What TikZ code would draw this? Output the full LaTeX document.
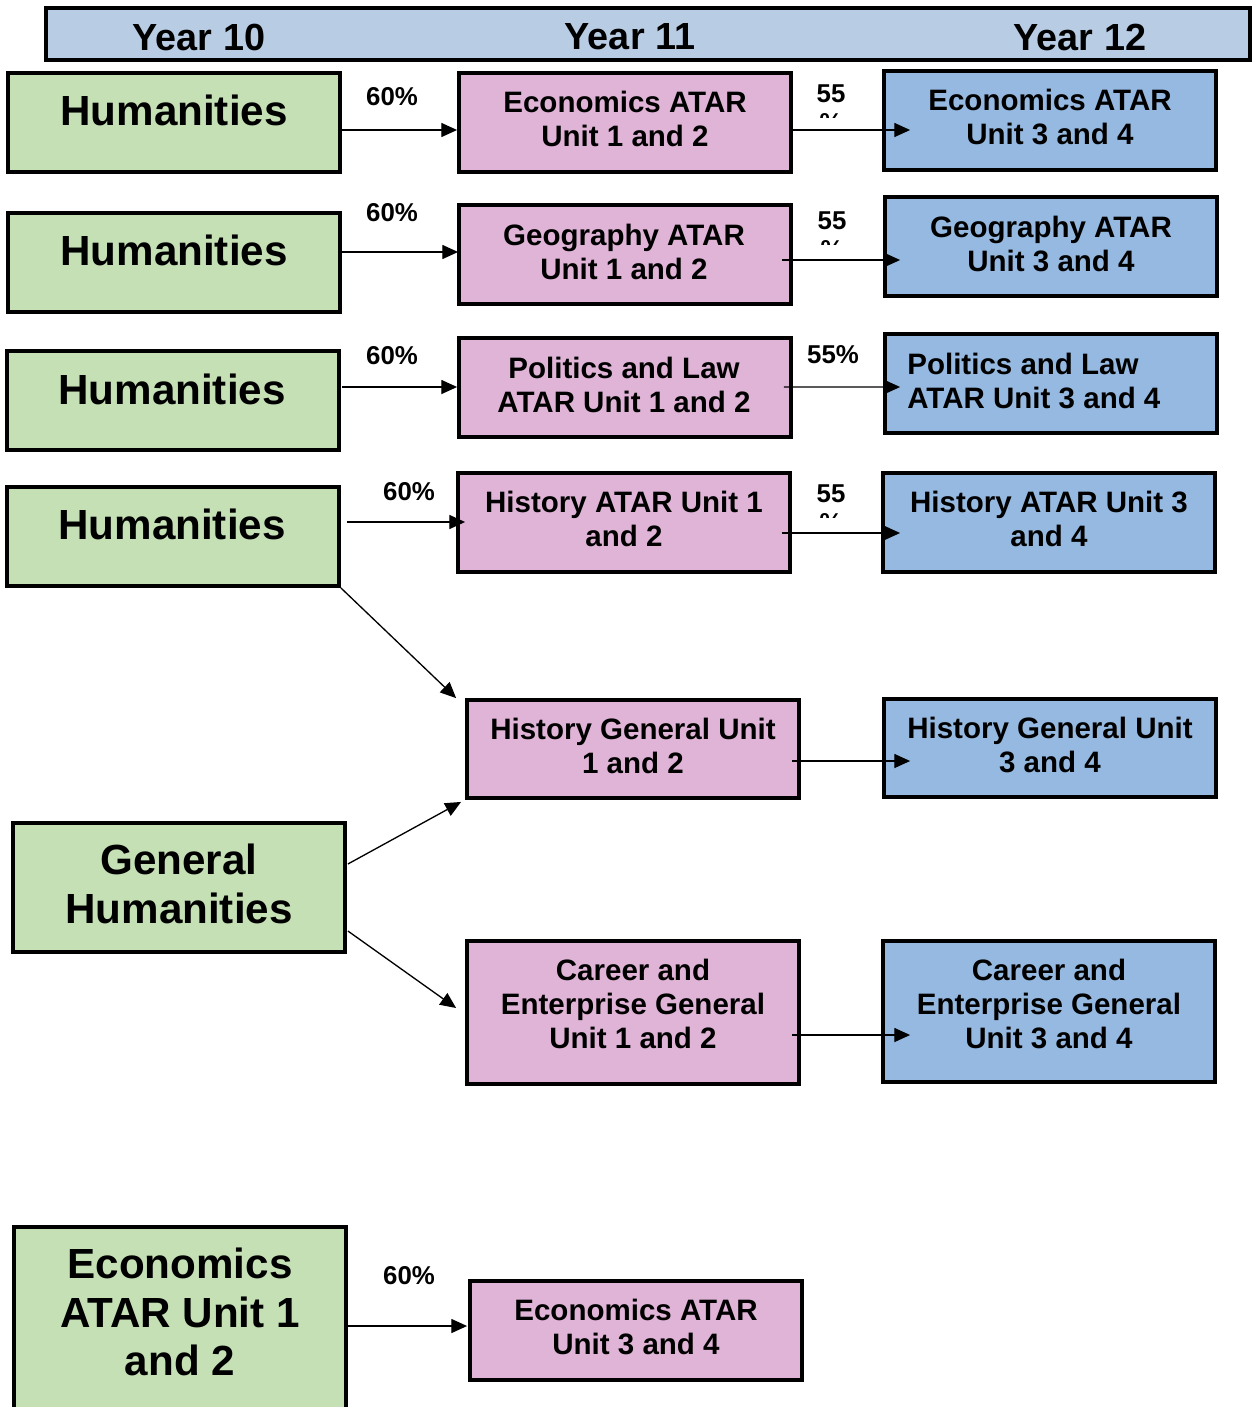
\documentclass[tikz,border=0pt]{standalone}
\usepackage{fontspec}
\setmainfont{Liberation Sans}
\usetikzlibrary{arrows.meta,calc}
\definecolor{gfill}{HTML}{C4E0B4}
\definecolor{pfill}{HTML}{E0B4D7}
\definecolor{bfill}{HTML}{95B9E0}
\definecolor{hfill}{HTML}{B8CCE4}
\begin{document}
\begin{tikzpicture}[x=0.02cm,y=-0.02cm,
  box/.style={draw=black, line width=2.2pt, inner sep=0pt, minimum width=6.64cm, minimum height=1.98cm},
  gbox/.style={box, fill=gfill},
  pbox/.style={box, fill=pfill},
  bbox/.style={box, fill=bfill},
  btxt/.style={align=center, inner sep=0pt, font=\fontsize{16.8}{19.3}\selectfont\bfseries},
  gtxt/.style={align=center, inner sep=0pt, font=\fontsize{24}{27.8}\selectfont\bfseries},
  htxt/.style={inner sep=0pt, font=\fontsize{21.5}{24}\selectfont\bfseries},
  pct/.style={inner sep=0pt, font=\fontsize{14.7}{17}\selectfont\bfseries},
  conn/.style={draw=black, line width=0.75pt, -{Triangle[length=9pt,width=8pt]}}
]
\useasboundingbox (0,0) rectangle (1252,1407);
% header
\node[draw=black, line width=2.2pt, fill=hfill, inner sep=0pt, minimum width=24.08cm, minimum height=1.04cm] (hdr) at (648,34) {};
\node[htxt] (y10) at (199,37) {Year 10};
\node[htxt] (y11) at (630,37) {Year 11};
\node[htxt] (y12) at (1080,37) {Year 12};
% row 1
\node[gbox] (g1) at (174,122.5) {};
\node[pbox] (p1) at (625,122.5) {};
\node[bbox] (b1) at (1050,120.5) {};
\node[gtxt] (g1t) at (174,110) {Humanities};
\node[btxt] (p1t) at (625,119) {Economics ATAR\\Unit 1 and 2};
\node[btxt] (b1t) at (1050,117) {Economics ATAR\\Unit 3 and 4};
% row 2
\node[gbox] (g2) at (174,262.5) {};
\node[pbox] (p2) at (625,254.5) {};
\node[bbox] (b2) at (1051,246.5) {};
\node[gtxt] (g2t) at (174,250) {Humanities};
\node[btxt] (p2t) at (624,252) {Geography ATAR\\Unit 1 and 2};
\node[btxt] (b2t) at (1051,244) {Geography ATAR\\Unit 3 and 4};
% row 3
\node[gbox] (g3) at (173,400.5) {};
\node[pbox] (p3) at (625,387.5) {};
\node[bbox] (b3) at (1051,383.5) {};
\node[gtxt] (g3t) at (172,389) {Humanities};
\node[btxt] (p3t) at (624,385) {Politics and Law\\ATAR Unit 1 and 2};
\node[btxt, align=left, anchor=west] (b3t) at (907,381) {Politics and Law\\ATAR Unit 3 and 4};
% row 4
\node[gbox] (g4) at (173,536.5) {};
\node[pbox] (p4) at (624,522.5) {};
\node[bbox] (b4) at (1049,522.5) {};
\node[gtxt] (g4t) at (172,524) {Humanities};
\node[btxt] (p4t) at (624,519) {History ATAR Unit 1\\and 2};
\node[btxt] (b4t) at (1049,519) {History ATAR Unit 3\\and 4};
% row 5
\node[pbox, minimum height=1.96cm] (p5) at (633,749) {};
\node[bbox, minimum height=1.96cm] (b5) at (1050,748) {};
\node[btxt] (p5t) at (633,746) {History General Unit\\1 and 2};
\node[btxt] (b5t) at (1050,745) {History General Unit\\3 and 4};
\node[gbox, minimum height=2.58cm] (g5) at (179,887.5) {};
\node[gtxt] (g5t) at (179,884) {General\\Humanities};
% row 6
\node[pbox, minimum height=2.86cm] (p6) at (633,1012.5) {};
\node[bbox, minimum height=2.82cm] (b6) at (1049,1011.5) {};
\node[btxt] (p6t) at (633,1004) {Career and\\Enterprise General\\Unit 1 and 2};
\node[btxt] (b6t) at (1049,1004) {Career and\\Enterprise General\\Unit 3 and 4};
% bottom
\node[gbox, minimum height=3.72cm] (g7) at (180,1320) {};
\node[pbox] (p7) at (636,1330.5) {};
\node[gtxt] (g7t) at (180,1312) {Economics\\ATAR Unit 1\\and 2};
\node[btxt] (p7t) at (636,1327) {Economics ATAR\\Unit 3 and 4};
% labels
\node[pct] (l1) at (392,97) {60\%};
\node[pct] (l2) at (392,213) {60\%};
\node[pct] (l3) at (392,356) {60\%};
\node[pct] (l4) at (409,492) {60\%};
\node[pct] (l5) at (409,1276) {60\%};
\node[pct] (l6) at (833,355) {55\%};
\begin{scope}
  \clip (800,70) rectangle (870,117);
  \node[pct, align=center, anchor=north] (l7) at (831,84) {55\\\%};
\end{scope}
\begin{scope}
  \clip (800,200) rectangle (870,244);
  \node[pct, align=center, anchor=north] (l8) at (832,211) {55\\\%};
\end{scope}
\begin{scope}
  \clip (800,470) rectangle (870,517);
  \node[pct, align=center, anchor=north] (l9) at (831,484) {55\\\%};
\end{scope}
% connectors
\draw[conn] ($(g1.east)+(0,7.5)$) -- ($(p1.west)+(0,7.5)$);
\draw[conn] ($(p1.east)+(0,7.5)$) -- ($(b1.west)+(28,9.5)$);
\draw[conn] ($(g2.east)+(0,-10.5)$) -- ($(p2.west)+(1,-2.5)$);
\draw[conn] ($(p2.east)+(-11,5.5)$) -- ($(b2.west)+(17,13.5)$);
\draw[conn] ($(g3.east)+(1,-13.5)$) -- ($(p3.west)+(0,-0.5)$);
\draw[conn] ($(p3.east)+(-9,-0.5)$) -- ($(b3.west)+(17,3.5)$);
\draw[conn] ($(g4.east)+(6,-14.5)$) -- ($(p4.west)+(9,-0.5)$);
\draw[conn] ($(p4.east)+(-10,10.5)$) -- ($(b4.west)+(19,10.5)$);
\draw[conn] (g4.south east) -- ($(p5.north west)+(-9,0)$);
\draw[conn] ($(p5.east)+(-9,12)$) -- ($(b5.west)+(28,13)$);
\draw[conn] ($(g5.east)+(1,-23.5)$) -- ($(p5.south west)+(-4,2)$);
\draw[conn] ($(g5.east)+(1,43.5)$) -- ($(p6.west)+(-9,-4.5)$);
\draw[conn] ($(p6.east)+(-9,22.5)$) -- ($(b6.west)+(29,23.5)$);
\draw[conn] ($(g7.east)+(0,6)$) -- ($(p7.west)+(-1,-4.5)$);
\end{tikzpicture}
\end{document}
